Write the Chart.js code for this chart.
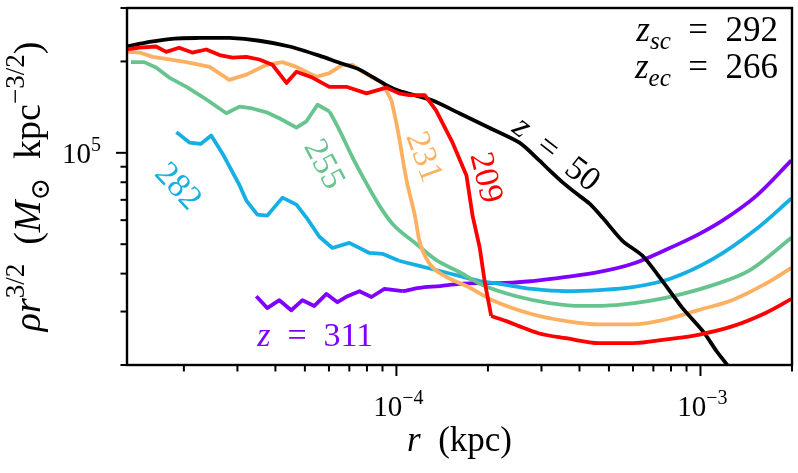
<!DOCTYPE html>
<html><head><meta charset="utf-8">
<script src="https://cdn.jsdelivr.net/npm/chart.js@4/dist/chart.umd.min.js"></script>
<style>html,body{margin:0;padding:0;background:#fff}#wrap{width:798px;height:473px}</style>
</head><body><div id="wrap"><canvas id="c" width="798" height="473"></canvas></div>
<script>
// radius r (kpc) and rho*r^{3/2} (Msun kpc^-3/2) for each redshift
const r50 = [1.30e-5,1.54e-5,1.86e-5,2.25e-5,2.82e-5,3.54e-5,4.45e-5,5.58e-5,6.49e-5,7.56e-5,9.27e-5,1.02e-4,1.31e-4,1.61e-4,2.02e-4,2.54e-4,2.95e-4,3.19e-4,3.52e-4,3.91e-4,4.31e-4,4.76e-4,5.54e-4,6.45e-4,7.50e-4,8.73e-4,1.02e-3,1.13e-3,1.22e-3,1.45e-3];
const v50 = [2.24e5,2.32e5,2.38e5,2.39e5,2.39e5,2.34e5,2.24e5,2.09e5,1.98e5,1.88e5,1.67e5,1.60e5,1.49e5,1.35e5,1.21e5,1.08e5,9.44e4,8.75e4,7.99e4,7.34e4,6.81e4,6.12e4,5.13e4,4.58e4,3.78e4,3.08e4,2.58e4,2.22e4,2.01e4,1.57e4];

const r209 = [1.30e-5,1.43e-5,1.62e-5,1.75e-5,1.93e-5,2.13e-5,2.37e-5,2.62e-5,2.89e-5,3.21e-5,3.54e-5,3.91e-5,4.35e-5,4.69e-5,5.29e-5,6.02e-5,6.85e-5,7.97e-5,9.27e-5,1.02e-4,1.10e-4,1.24e-4,1.35e-4,1.53e-4,1.70e-4,1.78e-4,1.88e-4,1.95e-4,2.05e-4,2.30e-4,2.60e-4,2.95e-4,3.62e-4,4.65e-4,5.98e-4,7.73e-4,9.92e-4,1.27e-3,1.65e-3,1.99e-3];
const v209 = [2.19e5,2.22e5,2.24e5,2.15e5,2.22e5,2.14e5,2.19e5,2.10e5,2.06e5,2.07e5,2.03e5,1.95e5,1.70e5,1.85e5,1.77e5,1.65e5,1.65e5,1.57e5,1.64e5,1.57e5,1.55e5,1.55e5,1.38e5,1.08e5,8.42e4,6.21e4,4.86e4,3.78e4,2.90e4,2.79e4,2.66e4,2.54e4,2.45e4,2.36e4,2.36e4,2.43e4,2.52e4,2.68e4,2.98e4,3.30e4];

const r231 = [1.30e-5,1.43e-5,1.58e-5,1.79e-5,2.04e-5,2.43e-5,2.82e-5,3.21e-5,3.74e-5,4.22e-5,4.69e-5,5.45e-5,6.02e-5,6.64e-5,7.17e-5,7.73e-5,8.34e-5,8.99e-5,9.63e-5,1.01e-4,1.08e-4,1.15e-4,1.19e-4,1.28e-4,1.46e-4,1.70e-4,2.07e-4,2.80e-4,3.62e-4,4.65e-4,5.98e-4,7.73e-4,9.92e-4,1.27e-3,1.65e-3,1.99e-3];
const v231 = [2.15e5,2.14e5,2.07e5,2.03e5,1.99e5,1.92e5,1.74e5,1.81e5,1.95e5,1.99e5,1.92e5,1.78e5,1.83e5,1.95e5,1.95e5,1.85e5,1.77e5,1.70e5,1.49e5,1.19e5,8.11e4,6.21e4,5.13e4,4.34e4,3.90e4,3.64e4,3.27e4,2.94e4,2.79e4,2.72e4,2.72e4,2.83e4,3.04e4,3.27e4,3.72e4,4.18e4];

const r255 = [1.34e-5,1.48e-5,1.62e-5,1.79e-5,2.04e-5,2.30e-5,2.76e-5,3.05e-5,3.36e-5,3.74e-5,4.12e-5,4.69e-5,5.06e-5,5.50e-5,6.02e-5,6.49e-5,7.17e-5,7.97e-5,8.79e-5,9.70e-5,1.16e-4,1.35e-4,1.61e-4,1.92e-4,2.48e-4,3.19e-4,4.09e-4,5.29e-4,6.80e-4,8.73e-4,1.13e-3,1.45e-3,1.99e-3];
const v255 = [1.99e5,1.99e5,1.91e5,1.77e5,1.65e5,1.53e5,1.35e5,1.42e5,1.40e5,1.36e5,1.30e5,1.21e5,1.27e5,1.44e5,1.37e5,1.19e5,9.66e4,7.93e4,6.70e4,5.84e4,5.02e4,4.44e4,4.05e4,3.67e4,3.37e4,3.20e4,3.13e4,3.15e4,3.25e4,3.43e4,3.70e4,4.10e4,5.25e4];

const r282 = [1.89e-5,2.09e-5,2.27e-5,2.46e-5,2.70e-5,3.05e-5,3.21e-5,3.49e-5,3.76e-5,4.22e-5,4.69e-5,5.06e-5,5.58e-5,6.16e-5,7.00e-5,8.15e-5,8.99e-5,1.02e-4,1.19e-4,1.39e-4,1.61e-4,1.88e-4,2.18e-4,2.80e-4,3.62e-4,4.65e-4,5.98e-4,7.91e-4,1.10e-3,1.53e-3,1.99e-3];
const v282 = [1.17e5,1.08e5,1.07e5,1.14e5,9.81e4,7.81e4,6.96e4,6.26e4,6.21e4,7.12e4,6.75e4,6.12e4,5.29e4,4.86e4,5.05e4,4.68e4,4.65e4,4.41e4,4.24e4,4.08e4,3.93e4,3.78e4,3.70e4,3.56e4,3.50e4,3.53e4,3.61e4,3.84e4,4.47e4,5.62e4,7.07e4];

const r311 = [3.46e-5,3.76e-5,4.12e-5,4.51e-5,4.91e-5,5.37e-5,5.89e-5,6.40e-5,6.90e-5,7.56e-5,8.28e-5,9.13e-5,1.05e-4,1.19e-4,1.39e-4,1.61e-4,1.88e-4,2.18e-4,2.80e-4,3.62e-4,4.65e-4,5.98e-4,7.79e-4,9.92e-4,1.18e-3,1.53e-3,1.99e-3];
const v311 = [3.37e4,3.08e4,3.27e4,3.03e4,3.27e4,3.13e4,3.43e4,3.22e4,3.37e4,3.50e4,3.35e4,3.56e4,3.50e4,3.59e4,3.64e4,3.70e4,3.72e4,3.72e4,3.78e4,3.90e4,4.05e4,4.31e4,4.82e4,5.41e4,5.98e4,7.23e4,9.44e4];

// axes
const xRange = [1.3e-5, 2e-3];
const yRange = [2e4, 3e5];
const xMajorTicks = [1e-4, 1e-3];
const xTickExponents = ["\u22124", "\u22123"];
const yMajorTicks = [1e5];
const yTickExponents = ["5"];
const zSC = "292", zEC = "266";

const FAM = "'Liberation Serif','DejaVu Serif',serif";
const COL = {z50:'#000000', z209:'#ff0000', z231:'#fdb062', z255:'#68c48e', z282:'#16afe3', z311:'#8000ff'};

function pts(r, v){ return r.map((x,i)=>({x:x, y:v[i]})); }
function base(label, data, color){
  return {label, data, borderColor: color, backgroundColor: color, borderWidth: 3.8,
    pointRadius: 0, fill: false, clip: 0, borderJoinStyle:'round', borderCapStyle:'butt'};
}
// noisy inner part drawn with straight segments, smooth outer part interpolated
function series(label, r, v, color, smoothFrom){
  const p = pts(r, v);
  if (smoothFrom == null) return [Object.assign(base(label, p, color), {tension: 0.25})];
  const a = p.filter(q => q.x <= smoothFrom), b = p.filter(q => q.x >= smoothFrom);
  return [Object.assign(base(label, a, color), {tension: 0}),
          Object.assign(base(label, b, color), {cubicInterpolationMode: 'monotone'})];
}

function drawRich(ctx, parts, x, y, opt){
  const size = opt.size;
  const fontFor = p => (p.it ? 'italic ' : '') + ((p.s==='sup'||p.s==='sub') ? Math.round(0.7*size) : size) + 'px ' + FAM;
  ctx.save();
  ctx.translate(x, y);
  if (opt.rot) ctx.rotate(opt.rot*Math.PI/180);
  let w = 0; const ws = [];
  parts.forEach(p => { ctx.font = fontFor(p); const m = ctx.measureText(p.t).width; ws.push(m); w += m; });
  let cx = opt.align==='right' ? -w : (opt.align==='left' ? 0 : -w/2);
  const dy = opt.vcenter ? size*0.33 : 0;
  ctx.fillStyle = opt.color || '#000';
  ctx.textAlign = 'left'; ctx.textBaseline = 'alphabetic';
  parts.forEach((p,i) => {
    ctx.font = fontFor(p);
    const off = p.s==='sup' ? -0.42*size : (p.s==='sub' ? 0.24*size : 0);
    ctx.fillText(p.t, cx, dy+off);
    cx += ws[i];
  });
  ctx.restore();
}

const EN = '\u2002';
const annot = {
  id: 'annot',
  afterDatasetsDraw(chart){
    const ctx = chart.ctx, a = chart.chartArea, xs = chart.scales.x, ys = chart.scales.y;
    const X = v => xs.getPixelForValue(v), Y = v => ys.getPixelForValue(v);
    drawRich(ctx, [{t:'z',it:true},{t:EN+'='+EN+'50'}], X(3.38e-4), Y(1.0e5), {size:34, rot:38, vcenter:true, color:COL.z50});
    drawRich(ctx, [{t:'209'}], X(1.99e-4), Y(8.3e4), {size:34, rot:76, vcenter:true, color:COL.z209});
    drawRich(ctx, [{t:'231'}], X(1.245e-4), Y(9.74e4), {size:34, rot:70, vcenter:true, color:COL.z231});
    drawRich(ctx, [{t:'255'}], X(5.84e-5), Y(9.23e4), {size:34, rot:62, vcenter:true, color:COL.z255});
    drawRich(ctx, [{t:'282'}], X(1.93e-5), Y(7.81e4), {size:34, rot:47, vcenter:true, color:COL.z282});
    drawRich(ctx, [{t:'z',it:true},{t:EN+'='+EN+'311'}], X(5.41e-5), Y(2.52e4), {size:34, vcenter:true, color:COL.z311});
    drawRich(ctx, [{t:'z',it:true},{t:'sc',it:true,s:'sub'},{t:EN+'='+EN+zSC}], a.right-14, a.top+33, {size:35, align:'right'});
    drawRich(ctx, [{t:'z',it:true},{t:'ec',it:true,s:'sub'},{t:EN+'='+EN+zEC}], a.right-14, a.top+70, {size:35, align:'right'});
  },
  afterDraw(chart){
    const ctx = chart.ctx, a = chart.chartArea, xs = chart.scales.x, ys = chart.scales.y;
    ctx.save();
    ctx.strokeStyle = '#000'; ctx.lineWidth = 2.4;
    ctx.strokeRect(a.left, a.top, a.right-a.left, a.bottom-a.top);
    ctx.lineWidth = 2;
    for (let d=-5; d<=-3; d++) for (let m=1; m<=9; m++){
      const v = m*Math.pow(10,d);
      if (v < xRange[0]*0.999 || v > xRange[1]*1.001) continue;
      const px = xs.getPixelForValue(v), len = (m===1) ? 11 : 6.5;
      ctx.beginPath(); ctx.moveTo(px, a.bottom); ctx.lineTo(px, a.bottom+len); ctx.stroke();
    }
    for (let d=4; d<=5; d++) for (let m=1; m<=9; m++){
      const v = m*Math.pow(10,d);
      if (v < yRange[0]*0.999 || v > yRange[1]*1.001) continue;
      const py = ys.getPixelForValue(v), len = (m===1) ? 11 : 6.5;
      ctx.beginPath(); ctx.moveTo(a.left, py); ctx.lineTo(a.left-len, py); ctx.stroke();
    }
    ctx.restore();
    xMajorTicks.forEach((v,i) => {
      drawRich(ctx, [{t:'10'},{t:xTickExponents[i],s:'sup'}], xs.getPixelForValue(v)+2, a.bottom+51, {size:29, align:'center'});
    });
    yMajorTicks.forEach((v,i) => {
      drawRich(ctx, [{t:'10'},{t:yTickExponents[i],s:'sup'}], a.left-26, ys.getPixelForValue(v)+10, {size:29, align:'right'});
    });
    drawRich(ctx, [{t:'r',it:true},{t:EN+'(kpc)'}], (a.left+a.right)/2, a.bottom+86, {size:35, align:'center'});
    drawRich(ctx, [{t:'\u03c1r',it:true},{t:'3/2',s:'sup'},{t:EN+'('},{t:'M',it:true},{t:'\u2299',s:'sub'},{t:EN+'kpc'},{t:'\u22123/2',s:'sup'},{t:')'}],
      40, (a.top+a.bottom)/2, {size:38, rot:-90, align:'center'});
  }
};

new Chart(document.getElementById('c'), {
  type: 'line',
  data: { datasets: [].concat(
    series('z = 209', r209, v209, COL.z209, 2.05e-4),
    series('z = 50', r50, v50, COL.z50, null),
    series('z = 231', r231, v231, COL.z231, 9.63e-5),
    series('z = 255', r255, v255, COL.z255, 6.02e-5),
    series('z = 282', r282, v282, COL.z282, 1.02e-4),
    series('z = 311', r311, v311, COL.z311, 1.05e-4)
  )},
  options: {
    responsive: false, devicePixelRatio: 1, animation: false, events: [],
    layout: { padding: { top: 8, right: 6, left: 0, bottom: 0 } },
    plugins: { legend: { display: false }, tooltip: { enabled: false } },
    scales: {
      x: { type: 'logarithmic', min: xRange[0], max: xRange[1],
           ticks: { display: false }, grid: { display: false, drawTicks: false }, border: { display: false },
           afterFit: s => { s.height = 108; } },
      y: { type: 'logarithmic', min: yRange[0], max: yRange[1],
           ticks: { display: false }, grid: { display: false, drawTicks: false }, border: { display: false },
           afterFit: s => { s.width = 127; } }
    }
  },
  plugins: [annot]
});
</script>
</body></html>
